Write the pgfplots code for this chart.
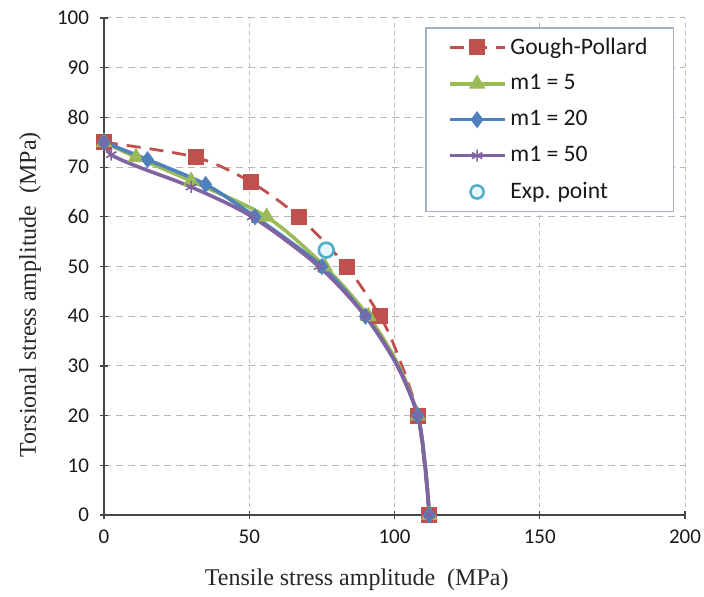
\documentclass[border=0pt]{standalone}
\usepackage{pgfplots}
\pgfplotsset{compat=1.18}
\usepackage{fontspec}
\setmainfont{Carlito}
\newfontfamily\seriffont{Liberation Serif}
\definecolor{gpred}{RGB}{192,80,77}
\definecolor{mgreen}{RGB}{155,187,89}
\definecolor{mblue}{RGB}{79,129,189}
\definecolor{mpurple}{RGB}{128,100,162}
\definecolor{expc}{RGB}{75,172,198}
\definecolor{gridc}{RGB}{185,185,185}
\definecolor{legc}{RGB}{165,175,192}
\definecolor{axc}{RGB}{70,70,70}
\begin{document}
\begin{tikzpicture}
\useasboundingbox (-52pt,-40.5pt) rectangle (300pt,257.5pt);
\begin{axis}[
  at={(0pt,0pt)}, anchor=south west,
  scale only axis, width=290.5pt, height=248.5pt,
  xmin=0, xmax=200, ymin=0, ymax=100,
  xtick={0,50,100,150,200}, ytick={0,10,...,100},
  axis x line*=bottom, axis y line*=left,
  axis line style={-, axc, line width=1pt},
  tick align=center, major tick length=4pt,
  tick style={axc, line width=0.6pt},
  grid=major,
  x grid style={gridc, line width=0.5pt, dash pattern=on 2pt off 2pt},
  y grid style={gridc, line width=0.5pt, dash pattern=on 3.5pt off 2.5pt},
  /pgf/number format/assume math mode=true,
  tick label style={font=\fontsize{10.5}{12}\selectfont, text=black!90},
  xticklabel style={yshift=-2pt},
  yticklabel style={xshift=-2pt},
  xlabel={Tensile stress amplitude\ \ (MPa)},
  ylabel={Torsional stress amplitude\ \ (MPa)},
  label style={font=\seriffont\fontsize{12}{14}\selectfont, text=black!85},
  xlabel style={at={(axis description cs:0.435,-0.131)}, anchor=center},
  ylabel style={at={(axis description cs:-0.127,0.443)}, anchor=center, rotate=0},
  legend style={at={(0.5525,0.982)}, anchor=north west, draw=legc,
    line width=0.8pt, fill=white, font=\fontsize{11.8}{13}\selectfont,
    inner xsep=11pt, inner ysep=3pt, row sep=4.8pt, text=black!90},
  legend cell align=left,
  legend image code/.code={\draw[#1, mark indices={2}] plot coordinates {(0pt,0pt)(13.75pt,0pt)(27.5pt,0pt)};},
]
\addplot[gpred, line width=1.4pt, dash pattern=on 7pt off 4.5pt, smooth,
  mark=square*, mark size=3.3pt, mark indices={1,2,3,4,5,6,8,9}, mark options={solid, fill=gpred, draw=gpred}]
  coordinates {(0,75) (31.5,72) (50.5,67) (67,60) (83.5,50) (95,40) (100.6,33) (108,20) (112,0)};
\addlegendentry{Gough-Pollard}
\addplot[mgreen, line width=1.8pt, smooth,
  mark=triangle*, mark size=3pt, mark indices={1,2,3,4,5,6,8,10}, mark options={solid, fill=mgreen}]
  coordinates {(0,75) (11,72) (30,67.2) (56,60) (76,50) (91,40) (101.5,30) (108,20) (110.6,10) (112,0)};
\addlegendentry{m1 = 5}
\addplot[mblue, line width=1.8pt, smooth,
  mark=diamond*, mark size=2.8pt, mark indices={1,2,3,4,5,6,8,10}, mark options={solid, fill=mblue}]
  coordinates {(0,75) (15,71.5) (35,66.5) (52,60) (75,50) (90,40) (101,30) (108,20) (110.5,10) (112,0)};
\addlegendentry{m1 = 20}
\addplot[mpurple, line width=1.8pt, smooth,
  mark=asterisk, mark size=3pt, mark indices={1,2,4,5,6,7,9,11}, mark options={solid, line width=0.8pt}]
  coordinates {(0,75) (2.5,72.5) (12,70) (30,66) (51,60) (74,50) (90,40) (101,30) (108,20) (110.5,10) (112,0)};
\addlegendentry{m1 = 50}
\addplot[only marks, mark=*, mark size=3.7pt,
  mark options={draw=expc, fill=cyan!10, line width=1.3pt},
  legend image code/.code={\draw[draw=expc, fill=cyan!10, line width=1.2pt] (13.75pt,0pt) circle (3.3pt);}]
  coordinates {(76.5,53.3)};
\addlegendentry{Exp. point}
\end{axis}
\end{tikzpicture}
\end{document}
